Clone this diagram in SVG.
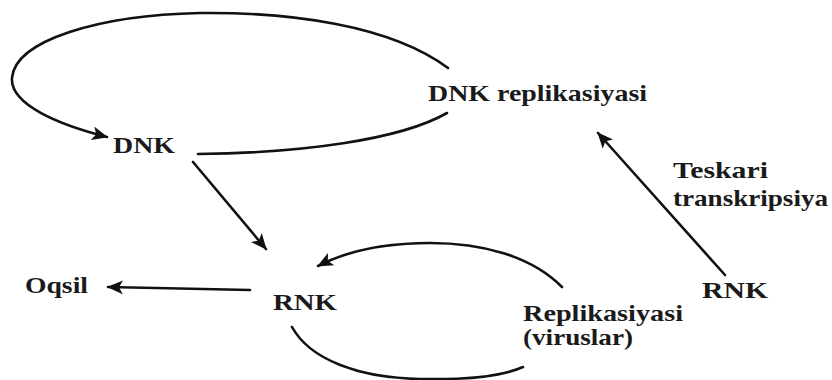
<svg xmlns="http://www.w3.org/2000/svg" width="832" height="380" viewBox="0 0 832 380">
<defs>
<marker id="ah" markerUnits="userSpaceOnUse" markerWidth="18" markerHeight="14" refX="15" refY="7" orient="auto">
<path d="M0,0 L16,7 L0,14 L4,7 Z" fill="#111"/>
</marker>
<style>
.t{font-family:"Liberation Serif","Times New Roman",serif;font-weight:bold;font-size:24px;fill:#1a1a1a}
.c{fill:none;stroke:#111;stroke-width:2.6;stroke-linecap:round}
</style>
</defs>
<rect width="832" height="380" fill="#fff"/>
<g id="connectors">
<path class="c" d="M448,68 C390,25 290,12 200,13 C100,15 15,40 12,78 C10,105 60,125 107,137" marker-end="url(#ah)"/>
<path class="c" d="M198,154 C300,153 400,140 447,113"/>
<path class="c" d="M193,162 L266,249" marker-end="url(#ah)"/>
<path class="c" d="M250,290 L108,287" marker-end="url(#ah)"/>
<path class="c" d="M562,287 C530,255 480,243 430,243 C380,243 345,252 318,266" marker-end="url(#ah)"/>
<path class="c" d="M292,327 C310,360 360,378 420,379 C470,380 505,375 523,367"/>
<path class="c" d="M725,275 L598,133" marker-end="url(#ah)"/>
</g>
<g id="dnk-replikasiyasi"><text class="t" x="428" y="101" textLength="219" lengthAdjust="spacingAndGlyphs">DNK replikasiyasi</text></g>
<g id="dnk"><text class="t" x="113" y="153" textLength="62" lengthAdjust="spacingAndGlyphs">DNK</text></g>
<g id="teskari"><text class="t" x="673" y="178" textLength="95" lengthAdjust="spacingAndGlyphs">Teskari</text><text class="t" x="673" y="206" textLength="155" lengthAdjust="spacingAndGlyphs">transkripsiya</text></g>
<g id="rnk-right"><text class="t" x="702" y="298" textLength="66" lengthAdjust="spacingAndGlyphs">RNK</text></g>
<g id="replikasiyasi"><text class="t" x="523" y="321" textLength="160" lengthAdjust="spacingAndGlyphs">Replikasiyasi</text><text class="t" x="523" y="345" textLength="110" lengthAdjust="spacingAndGlyphs">(viruslar)</text></g>
<g id="rnk"><text class="t" x="273" y="310" textLength="64" lengthAdjust="spacingAndGlyphs">RNK</text></g>
<g id="oqsil"><text class="t" x="25" y="293" textLength="63" lengthAdjust="spacingAndGlyphs">Oqsil</text></g>
</svg>
